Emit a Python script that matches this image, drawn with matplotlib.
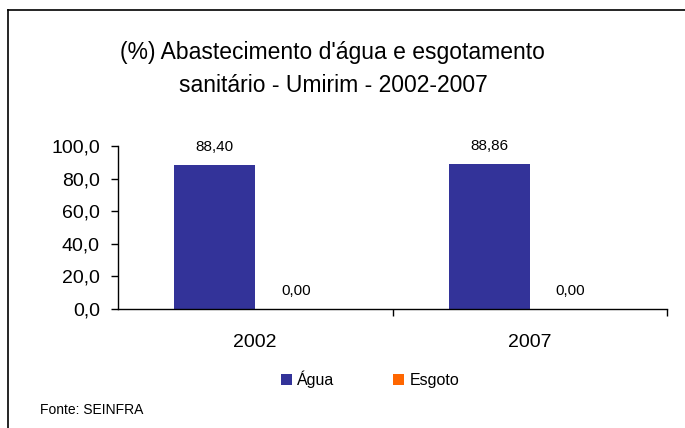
import matplotlib.pyplot as plt
from matplotlib.lines import Line2D

plt.rcParams['font.family'] = ['Liberation Sans', 'DejaVu Sans']

# Dados: abastecimento d'agua e esgotamento (%)
anos = ['2002', '2007']
agua = [88.40, 88.86]
esgoto = [0.00, 0.00]
yticks = [0, 20, 40, 60, 80, 100]

cor_agua = '#333399'
cor_esgoto = '#FF6600'

fig = plt.figure(figsize=(6.85, 4.28), dpi=100)
ax = fig.add_axes([118 / 685, 1 - 309 / 428, 549 / 685, 163 / 428])

x = [i + 0.5 for i in range(len(anos))]
w = 0.295
b1 = ax.bar([p - w / 2 for p in x], agua, w, color=cor_agua, label='Água')
b2 = ax.bar([p + w / 2 for p in x], esgoto, w, color=cor_esgoto, label='Esgoto')

def fmt(v):
    return f'{v:.2f}'.replace('.', ',')

for bars, vals in [(b1, agua), (b2, esgoto)]:
    for r, v in zip(bars, vals):
        ax.annotate(fmt(v), (r.get_x() + r.get_width() / 2, v),
                    xytext=(0, 13), textcoords='offset points',
                    ha='center', va='center', fontsize=11)

ax.set_xlim(0, len(anos))
ax.set_ylim(0, 100)
ax.set_yticks(yticks)
ax.set_yticklabels([f'{t:.1f}'.replace('.', ',') for t in yticks], fontsize=14)
ax.set_xticks(x)
ax.set_xticklabels(anos, fontsize=14)
ax.set_xticks(range(1, len(anos) + 1), minor=True)
ax.tick_params(axis='x', which='major', length=0, pad=18)
ax.tick_params(axis='x', which='minor', length=5, width=1)
ax.tick_params(axis='y', length=5, width=1, pad=8)
for s in ['top', 'right']:
    ax.spines[s].set_visible(False)
for s in ['left', 'bottom']:
    ax.spines[s].set_linewidth(1)

fig.text(0.486, 1 - 69 / 428, "(%) Abastecimento d'água e esgotamento\nsanitário - Umirim - 2002-2007",
         ha='center', va='center', fontsize=16.5, linespacing=1.55)

fig.legend(handles=[b1, b2], loc='center', bbox_to_anchor=(370 / 685, 1 - 379 / 428),
           ncol=2, frameon=False, fontsize=11.5, handlelength=0.7, handleheight=0.7,
           handletextpad=0.3, columnspacing=3.7)

fig.text(40 / 685, 1 - 410 / 428, 'Fonte: SEINFRA', ha='left', va='center', fontsize=10)

# moldura
fig.add_artist(Line2D([8 / 685, 8 / 685], [0, 1 - 10 / 428], color='black', lw=1.2,
                      transform=fig.transFigure))
fig.add_artist(Line2D([8 / 685, 1], [1 - 10 / 428, 1 - 10 / 428], color='black', lw=1.2,
                      transform=fig.transFigure))

fig.savefig('out.png', dpi=100)
